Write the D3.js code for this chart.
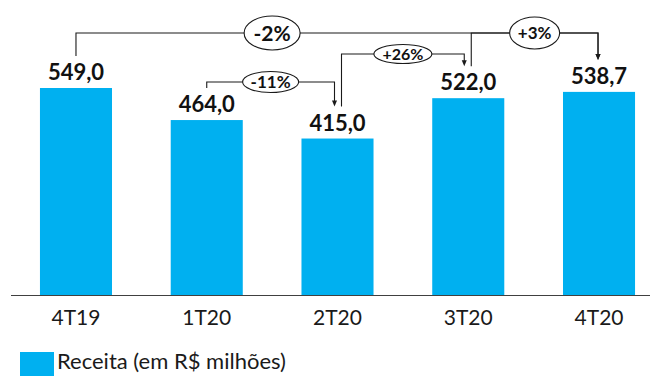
<!DOCTYPE html>
<html>
<head>
<meta charset="utf-8">
<script src="https://cdn.jsdelivr.net/npm/d3@7"></script>
<style>
    body { margin: 0; background: #fff; }
    svg { display: block; font-family: Lato, "Open Sans", sans-serif; }
</style>
</head>
<body>
<div id="chart"></div>
<script>
const categories = ['4T19', '1T20', '2T20', '3T20', '4T20'];
const values = [549.0, 464.0, 415.0, 522.0, 538.7];
const growthFrom = [0, 1, 2, 3];
const growthTo = [4, 2, 3, 4];
const growthLabels = ['-2%', '-11%', '+26%', '+3%'];
const legendLabel = 'Receita (em R$ milhões)';

// bracket layout, one per growth label
const bracketY = [33, 82, 54, 33];
const bubble = [
    {at: 1.5, rx: 28, ry: 17, size: 21},
    {at: null, rx: 28, ry: 10.5, size: 17},
    {at: null, rx: 29, ry: 9.5, size: 16},
    {at: null, rx: 25, ry: 16, size: 17}
];
const startDx = [0, 0, 4, 3];
const endDx = [-1, -3, -4, -1];

const width = 650;
const height = 376;
const barColor = '#00b0f0';
const lineColor = '#1a1a1a';

const ptBR = d3.formatLocale({decimal: ',', thousands: '.', grouping: [3], currency: ['R$', '']});
const fmt = ptBR.format('.1f');

const svg = d3.select('#chart')
    .append('svg')
    .attr('width', width)
    .attr('height', height);

const x = d3.scaleBand()
    .domain(categories)
    .range([10.6, 664.4])
    .paddingInner(0.449)
    .paddingOuter(0.2245);

const y = d3.scaleLinear()
    .domain([0, 782.4])
    .range([295, 0]);

const cx = i => x(categories[i]) + x.bandwidth() / 2;

// bars
svg.append('g')
    .selectAll('rect')
    .data(values)
    .enter()
    .append('rect')
    .attr('x', (d, i) => x(categories[i]))
    .attr('y', d => y(d))
    .attr('width', x.bandwidth())
    .attr('height', d => y(0) - y(d))
    .attr('fill', barColor);

// baseline
svg.append('line')
    .attr('x1', 11)
    .attr('x2', width)
    .attr('y1', y(0) + 0.5)
    .attr('y2', y(0) + 0.5)
    .attr('stroke', '#404040')
    .attr('stroke-width', 1);

// x axis labels
svg.append('g')
    .attr('transform', 'translate(0,' + y(0) + ')')
    .call(d3.axisBottom(x).tickSize(0).tickPadding(0))
    .call(g => g.select('.domain').remove())
    .call(g => g.selectAll('text')
        .attr('dy', null)
        .attr('y', 30)
        .attr('font-family', 'Lato, sans-serif')
        .attr('font-size', 21)
        .attr('fill', '#1a1a1a'));

// value labels
svg.append('g')
    .selectAll('text')
    .data(values)
    .enter()
    .append('text')
    .attr('x', (d, i) => cx(i))
    .attr('y', d => y(d) - 8)
    .attr('text-anchor', 'middle')
    .attr('font-size', 22)
    .attr('font-weight', 'bold')
    .attr('fill', '#111')
    .text(d => fmt(d));

// growth brackets
const brackets = svg.append('g');
growthLabels.forEach((label, k) => {
    const i0 = growthFrom[k];
    const i1 = growthTo[k];
    const x0 = cx(i0) + startDx[k];
    const x1 = cx(i1) + endDx[k];
    const yb = bracketY[k];
    const y0 = y(values[i0]) - 32;
    const y1 = y(values[i1]) - 32;

    brackets.append('path')
        .attr('d', 'M' + x0 + ',' + y0 + 'V' + yb + 'H' + x1 + 'V' + (y1 - 5))
        .attr('fill', 'none')
        .attr('stroke', lineColor)
        .attr('stroke-width', 1.1);

    brackets.append('path')
        .attr('d', 'M' + (x1 - 2.5) + ',' + (y1 - 6) + 'L' + (x1 + 2.5) + ',' + (y1 - 6) + 'L' + x1 + ',' + y1 + 'Z')
        .attr('fill', lineColor);

    const b = bubble[k];
    let bx = (x0 + x1) / 2;
    if (b.at !== null) {
        bx = cx(Math.floor(b.at)) + (b.at % 1) * x.step();
    }
    brackets.append('ellipse')
        .attr('cx', bx)
        .attr('cy', yb)
        .attr('rx', b.rx)
        .attr('ry', b.ry)
        .attr('fill', '#fff')
        .attr('stroke', lineColor)
        .attr('stroke-width', 1.1);

    brackets.append('text')
        .attr('x', bx)
        .attr('y', yb)
        .attr('dy', '0.36em')
        .attr('text-anchor', 'middle')
        .attr('font-size', b.size)
        .attr('font-weight', 'bold')
        .attr('fill', '#111')
        .text(label);
});

// legend
const legend = svg.append('g');
legend.append('rect')
    .attr('x', 20)
    .attr('y', 352)
    .attr('width', 34)
    .attr('height', 30)
    .attr('fill', barColor);
legend.append('text')
    .attr('x', 57)
    .attr('y', 369)
    .attr('font-size', 22)
    .attr('fill', '#1a1a1a')
    .text(legendLabel);
</script>
</body>
</html>
